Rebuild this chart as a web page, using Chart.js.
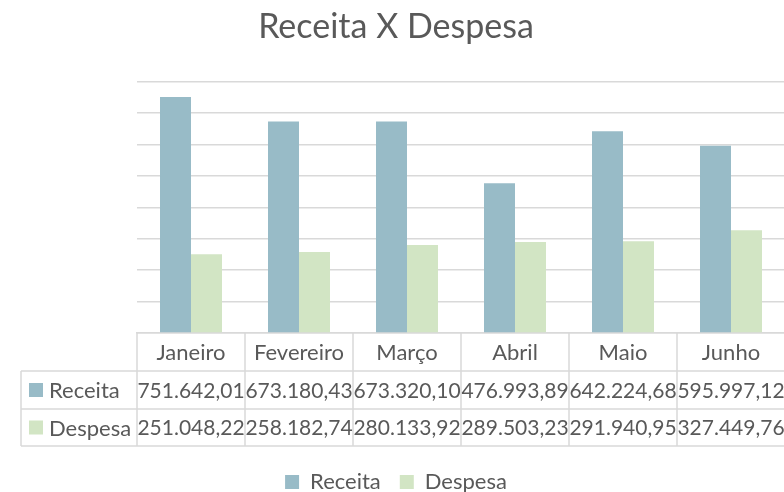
<!DOCTYPE html>
<html>
<head>
<meta charset="utf-8">
<script src="https://cdn.jsdelivr.net/npm/chart.js@4"></script>
<style>
  html, body { margin: 0; padding: 0; overflow: hidden; background: #ffffff; }
  #wrap { width: 792px; height: 503px; }
</style>
</head>
<body>
<div id="wrap"><canvas id="c" width="792" height="503"></canvas></div>
<script>
const categories = ['Janeiro', 'Fevereiro', 'Março', 'Abril', 'Maio', 'Junho'];
const receita = [751642.01, 673180.43, 673320.10, 476993.89, 642224.68, 595997.12];
const despesa = [251048.22, 258182.74, 280133.92, 289503.23, 291940.95, 327449.76];
const seriesNames = ['Receita', 'Despesa'];
const colors = ['#98BBC7', '#D2E5C4'];
const yMax = 800000;
const yStep = 100000;

const FONT = 'Lato, "Open Sans", sans-serif';
const TEXT = '#595959';
const LINE = '#D9D9D9';

function fmtBR(v) {
  const neg = v < 0;
  const fixed = Math.abs(v).toFixed(2);
  let [ip, dp] = fixed.split('.');
  ip = ip.replace(/\B(?=(\d{3})+(?!\d))/g, '.');
  return (neg ? '-' : '') + ip + ',' + dp;
}

const tablePlugin = {
  id: 'dataTable',
  afterDraw(chart) {
    const ctx = chart.ctx;
    const xs = chart.scales.x;
    const area = chart.chartArea;
    const n = categories.length;
    const catW = (xs.getPixelForValue(1) - xs.getPixelForValue(0));
    const top = area.bottom;
    const r1 = top + 38;
    const r2 = r1 + 38;
    const r3 = r2 + 37;
    const leftCol = 21;
    const right = xs.getPixelForValue(n - 1) + catW / 2;
    ctx.save();
    ctx.strokeStyle = LINE;
    ctx.lineWidth = 1.5;
    ctx.beginPath();
    [r1, r2, r3].forEach(y => { ctx.moveTo(leftCol, y); ctx.lineTo(right, y); });
    for (let i = 0; i <= n; i++) {
      const x = xs.getPixelForValue(0) - catW / 2 + i * catW;
      ctx.moveTo(x, top); ctx.lineTo(x, r3);
    }
    ctx.moveTo(leftCol, r1); ctx.lineTo(leftCol, r3);
    ctx.stroke();

    ctx.fillStyle = TEXT;
    ctx.textAlign = 'center';
    ctx.textBaseline = 'middle';
    const data = [receita, despesa];
    for (let i = 0; i < n; i++) {
      const cx = xs.getPixelForValue(i);
      ctx.font = '22px ' + FONT;
      ctx.fillText(categories[i], cx, (top + r1) / 2 + 1);
      ctx.font = '21px ' + FONT;
      ctx.fillText(fmtBR(data[0][i]), cx, (r1 + r2) / 2 + 1);
      ctx.fillText(fmtBR(data[1][i]), cx, (r2 + r3) / 2 + 1);
    }
    const rows = [[r1, r2], [r2, r3]];
    ctx.textAlign = 'left';
    ctx.font = '22px ' + FONT;
    rows.forEach((rw, k) => {
      const cy = (rw[0] + rw[1]) / 2;
      ctx.fillStyle = colors[k];
      ctx.fillRect(29, cy - 7, 14, 14);
      ctx.fillStyle = TEXT;
      ctx.fillText(seriesNames[k], 49, cy + 1);
    });
    ctx.restore();
  }
};

new Chart(document.getElementById('c'), {
  type: 'bar',
  data: {
    labels: categories,
    datasets: [
      { label: seriesNames[0], data: receita, backgroundColor: colors[0] },
      { label: seriesNames[1], data: despesa, backgroundColor: colors[1] }
    ]
  },
  options: {
    responsive: false,
    animation: false,
    devicePixelRatio: 1,
    layout: { padding: 0 },
    datasets: { bar: { categoryPercentage: 0.574, barPercentage: 1.0 } },
    scales: {
      x: {
        grid: { display: false },
        border: { display: true, color: LINE, width: 1.5 },
        ticks: { display: false },
        afterFit(s) { s.height = 119; }
      },
      y: {
        min: 0, max: yMax,
        ticks: { display: false, stepSize: yStep },
        grid: { color: LINE, lineWidth: 1.5, drawTicks: false },
        border: { display: false },
        afterFit(s) { s.width = 137; }
      },
      yRight: {
        position: 'right',
        min: 0, max: yMax,
        ticks: { display: false },
        grid: { display: false, drawTicks: false },
        border: { display: false },
        afterFit(s) { s.width = 7; }
      }
    },
    plugins: {
      title: {
        display: true,
        text: 'Receita X Despesa',
        color: TEXT,
        font: { family: FONT, size: 34, weight: 'normal' },
        padding: { top: 7, bottom: 34 }
      },
      legend: {
        position: 'bottom',
        labels: {
          color: TEXT,
          font: { family: FONT, size: 22 },
          boxWidth: 14,
          boxHeight: 14,
          padding: 19
        }
      },
      tooltip: { enabled: false }
    }
  },
  plugins: [tablePlugin]
});
</script>
</body>
</html>
